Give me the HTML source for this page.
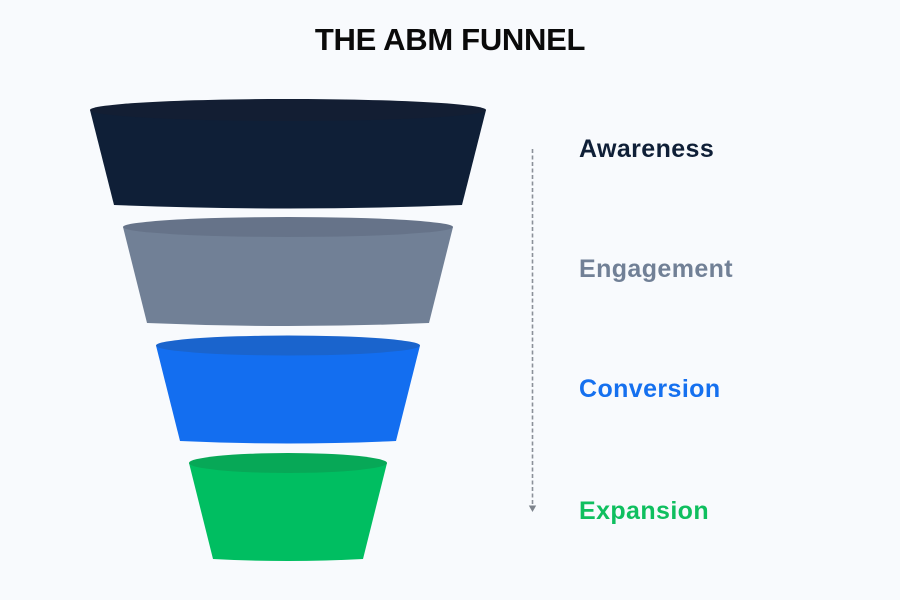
<!DOCTYPE html>
<html><head><meta charset="utf-8"><style>
html,body{margin:0;padding:0;background:#f8fafd;}
body{width:900px;height:600px;overflow:hidden;position:relative;font-family:"Liberation Sans",Arial,sans-serif;}
.t{position:absolute;font-weight:bold;white-space:nowrap;}
.title{left:0;width:900px;text-align:center;top:22px;font-size:31px;line-height:36px;color:#0a0a0a;letter-spacing:-0.3px;}
.lbl{left:579px;font-size:25px;line-height:28px;letter-spacing:0.4px;}
</style></head><body>
<svg width="900" height="600" style="position:absolute;left:0;top:0">
  <path d="M90,110 L114,205 Q288,212 462,205 L486,110 Z" fill="#0f1f37"/>
  <ellipse cx="288" cy="110" rx="198" ry="11" fill="#131e33"/>
  <path d="M123,227 L147,323 Q288,329 429,323 L453,227 Z" fill="#718096"/>
  <ellipse cx="288" cy="227" rx="165" ry="10" fill="#667389"/>
  <path d="M156,345.5 L180,441 Q288,446 396,441 L420,345.5 Z" fill="#136ef0"/>
  <ellipse cx="288" cy="345.5" rx="132" ry="10" fill="#1a64cd"/>
  <path d="M189,463 L213,559 Q288,563 363,559 L387,463 Z" fill="#00be61"/>
  <ellipse cx="288" cy="463" rx="99" ry="10" fill="#07a857"/>
  <line x1="532.5" y1="149" x2="532.5" y2="506" stroke="#8b9099" stroke-width="1.6" stroke-dasharray="4 2.5"/>
  <path d="M528.8,505.5 L536.2,505.5 L532.5,512 Z" fill="#7d838c"/>
</svg>
<div class="t title">THE ABM FUNNEL</div>
<div class="t lbl" style="top:135px;color:#0f1f37;">Awareness</div>
<div class="t lbl" style="top:255px;color:#718096;">Engagement</div>
<div class="t lbl" style="top:375px;color:#1570ef;">Conversion</div>
<div class="t lbl" style="top:497px;color:#0fbf5f;">Expansion</div>
</body></html>
